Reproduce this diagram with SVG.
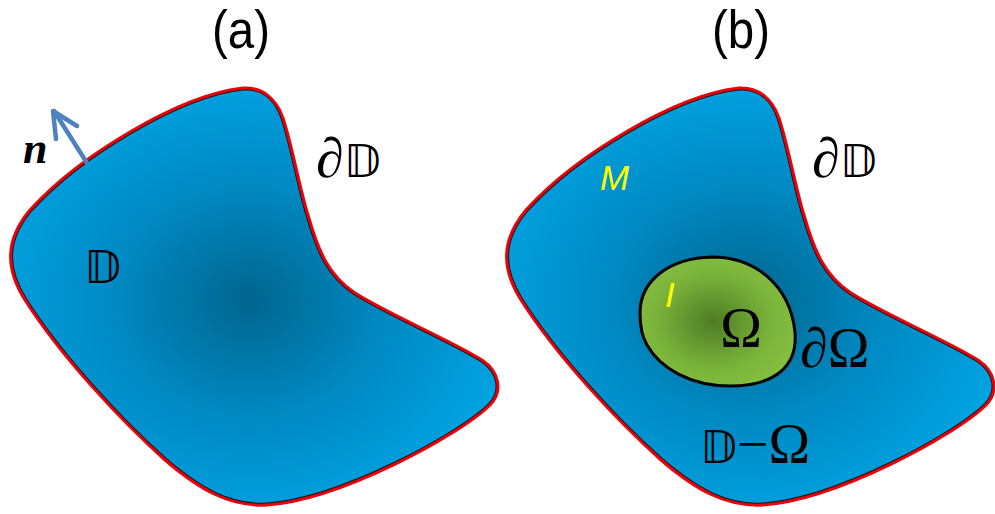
<svg xmlns="http://www.w3.org/2000/svg" xmlns:xlink="http://www.w3.org/1999/xlink" width="995" height="514" viewBox="0 0 995 514">
<style>
.title{font-family:"Liberation Sans",Arial,sans-serif;font-size:54px;fill:#000;text-anchor:middle}
.bb{font-family:"DejaVu Sans","DejaVu Serif",serif;font-size:45px;fill:#000}
.pd{font-family:"Liberation Serif",serif;font-style:italic;font-size:56px;fill:#000}
.om{font-family:"Liberation Serif",serif;font-size:56px;fill:#000}
.yl{font-family:"Liberation Sans",Arial,sans-serif;font-style:italic;font-size:35px;fill:#ffff00}
</style>
<defs>
<path id="blob" d="M243,88 C262,87 276,98 283,118 C292,145 300,190 308,215 C318,250 328,275 355,293 C390,315 450,340 482,360 C500,372 503,392 490,405 C460,435 340,500 267,505 C230,507 200,490 165,460 C120,420 60,355 25,300 C5,268 5,240 30,210 C80,155 180,95 243,88 Z"/>
<clipPath id="blobclip"><use xlink:href="#blob"/></clipPath>
<radialGradient id="blue" cx="0.49" cy="0.51" r="0.62">
<stop offset="0" stop-color="#00668e"/>
<stop offset="0.45" stop-color="#0089c2"/>
<stop offset="1" stop-color="#00aaeb"/>
</radialGradient>
<radialGradient id="green" cx="0.47" cy="0.5" r="0.6">
<stop offset="0" stop-color="#4e7c26"/>
<stop offset="0.6" stop-color="#79b23a"/>
<stop offset="1" stop-color="#86c240"/>
</radialGradient>
</defs>
<rect width="995" height="514" fill="#fff"/>

<g id="title-a"><text class="title" x="241" y="48" textLength="58" lengthAdjust="spacingAndGlyphs">(a)</text></g>
<g id="title-b"><text class="title" x="741" y="48" textLength="58" lengthAdjust="spacingAndGlyphs">(b)</text></g>

<g id="domain-a">
<use xlink:href="#blob" fill="url(#blue)"/>
<use xlink:href="#blob" fill="none" stroke="#1a1a1a" stroke-width="5" clip-path="url(#blobclip)"/>
<use xlink:href="#blob" fill="none" stroke="#e8000b" stroke-width="3"/>
</g>

<g id="domain-b" transform="translate(496,0)">
<use xlink:href="#blob" fill="url(#blue)"/>
<use xlink:href="#blob" fill="none" stroke="#1a1a1a" stroke-width="5" clip-path="url(#blobclip)"/>
<use xlink:href="#blob" fill="none" stroke="#e8000b" stroke-width="3"/>
</g>

<g id="omega-region">
<path d="M640,313 C640,280 670,258 712,257 C755,257 790,285 795,332 C798,366 775,386 730,386 C690,386 660,368 647,345 C641,335 640,325 640,313 Z" fill="url(#green)" stroke="#000" stroke-width="3"/>
</g>

<g id="connectors">
<path d="M87,163 L54,111" fill="none" stroke="#4f81bd" stroke-width="4.5" stroke-linecap="round"/>
<path d="M77,126 L53,111 L56,139" fill="none" stroke="#4f81bd" stroke-width="4.5" stroke-linecap="round" stroke-linejoin="round"/>
</g>

<g id="labels-a">
<text x="23" y="163" font-family="Liberation Serif,serif" font-weight="bold" font-style="italic" font-size="44">n</text>
<text x="316" y="177"><tspan class="pd">∂</tspan><tspan class="bb">𝔻</tspan></text>
<text class="bb" x="84" y="283">𝔻</text>
</g>

<g id="labels-b">
<text x="812" y="177"><tspan class="pd">∂</tspan><tspan class="bb">𝔻</tspan></text>
<text class="yl" x="600" y="190">M</text>
<text class="yl" x="665" y="307">I</text>
<text class="om" x="741" y="347" text-anchor="middle">Ω</text>
<text x="800" y="367"><tspan class="pd">∂</tspan><tspan class="om">Ω</tspan></text>
<text x="700" y="463"><tspan class="bb">𝔻</tspan><tspan class="om">−Ω</tspan></text>
</g>
</svg>
